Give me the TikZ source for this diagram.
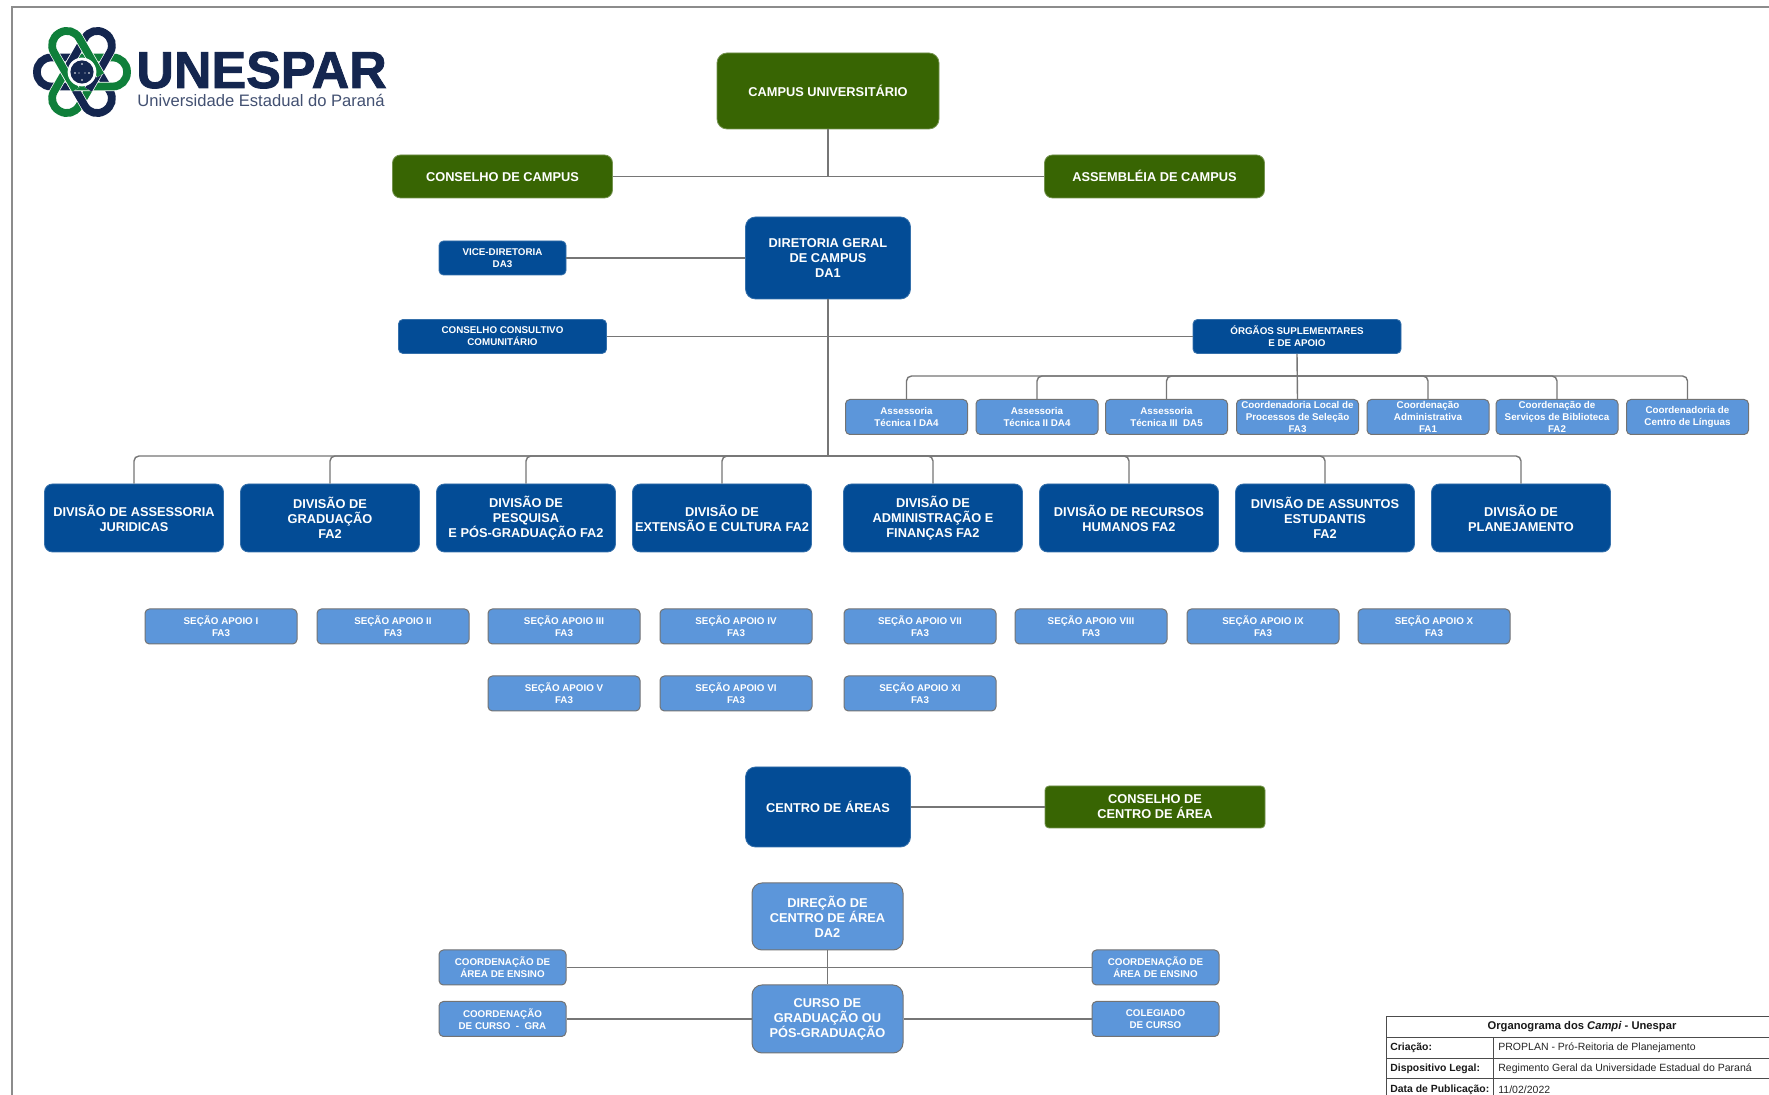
\documentclass[tikz,border=0pt]{standalone}
\usepackage{fontspec}
\setmainfont{Liberation Sans}
\newfontfamily\heavyfont[FakeBold=1.6,UprightFont=* Bold]{Liberation Sans}
\definecolor{gr}{HTML}{386503}
\definecolor{nv}{HTML}{034C96}
\definecolor{lb}{HTML}{5C96DA}
\definecolor{ink}{HTML}{14264F}
\definecolor{lgreen}{HTML}{0F7F3A}
\definecolor{conn}{HTML}{767676}
\tikzset{
 box/.style={rectangle,align=center,text=white,font=\bfseries\fontsize{6.4}{7.5}\selectfont,inner sep=0pt,rounded corners=4pt},
 greenbox/.style={box,fill=gr,draw=gr!70!white,line width=.4pt},
 navybox/.style={box,fill=nv,draw=nv!80!white,line width=.4pt},
 lightbox/.style={box,fill=lb,draw=black!55,line width=.5pt},
 smalltext/.style={font=\bfseries\fontsize{4.9}{6}\selectfont,rounded corners=2.2pt},
 div/.style={navybox,minimum width=89.5pt,minimum height=34pt},
 sec/.style={lightbox,smalltext,minimum width=76pt,minimum height=17.5pt},
 sup/.style={lightbox,smalltext,minimum width=61pt,minimum height=17.5pt},
 coordb/.style={lightbox,smalltext,minimum width=63.5pt,minimum height=17.5pt},
 wire/.style={draw=conn,line width=.7pt,rounded corners=2.5pt},
 framel/.style={draw=black!45,line width=.6pt},
 tabl/.style={draw=black!70,line width=.45pt},
 tabt/.style={inner sep=0pt,anchor=west,text=black!85,font=\fontsize{5.25}{6}\selectfont},
 tabb/.style={inner sep=0pt,anchor=west,text=black!90,font=\bfseries\fontsize{5.2}{6}\selectfont},
}
\begin{document}
\begin{tikzpicture}[x=0.5pt,y=-0.5pt]
\useasboundingbox (0,0) rectangle (1769,1095);
\fill[white] (0,0) rectangle (1769,1095);
% frame
\draw[framel] (1769,7) -- (12,7) -- (12,1095);
% logo
\foreach \a/\c in {180/ink,240/lgreen,300/ink,0/lgreen,60/ink,120/lgreen}{
 \begin{scope}[shift={(82,72)},rotate=\a]
  \draw[white,line width=4.6pt,rounded corners=7pt] (-12,-14.5) -- (45,-14.5) -- (45,14.5) -- (-12,14.5);
  \draw[draw=\c,line width=3.9pt,rounded corners=7pt] (-12,-14.5) -- (45,-14.5) -- (45,14.5) -- (-12,14.5);
 \end{scope}}
\fill[white] (82,72) circle (7.2pt);
\fill[ink] (82,72) circle (5.8pt);
\fill[white] (82,64) circle (.45pt) (75,73) circle (.45pt) (89,73) circle (.45pt) (82,80) circle (.45pt) (79,73) circle (.35pt) (85,73) circle (.35pt);
\node[inner sep=0pt,anchor=base west,text=ink,font=\heavyfont\fontsize{26}{28}\selectfont] (lg1) at (136,88) {UNESPAR};
\node[inner sep=0pt,anchor=base west,text=ink!80,font=\fontsize{8.3}{9}\selectfont] (lg2) at (137,107) {Universidade Estadual do Paraná};
% top
\node[greenbox,rounded corners=5pt,minimum width=111pt,minimum height=38pt] (campus) at (828,91) {CAMPUS UNIVERSITÁRIO};
\node[greenbox,minimum width=110pt,minimum height=21.5pt,text height=4.6pt,text depth=0pt] (cc) at (502.5,176.5) {CONSELHO DE CAMPUS};
\node[greenbox,minimum width=110pt,minimum height=21.5pt,text height=4.6pt,text depth=0pt] (ac) at (1154.5,176.5) {ASSEMBLÉIA DE CAMPUS};
\node[navybox,rounded corners=5pt,minimum width=82.5pt,minimum height=41pt] (dg) at (828,258) {DIRETORIA GERAL\\DE CAMPUS\\DA1};
\node[navybox,smalltext,minimum width=63.5pt,minimum height=17pt] (vice) at (502.5,258) {VICE-DIRETORIA\\DA3};
\node[navybox,smalltext,minimum width=104pt,minimum height=17pt] (ccc) at (502.5,336.5) {CONSELHO CONSULTIVO\\COMUNITÁRIO};
\node[navybox,smalltext,minimum width=104pt,minimum height=17pt] (osa) at (1297,336.5) {ÓRGÃOS SUPLEMENTARES\\E DE APOIO};
% suplementares
\node[sup] (s1) at (906.5,417) {Assessoria\\Técnica I DA4};
\node[sup] (s2) at (1037,417) {Assessoria\\Técnica II DA4};
\node[sup] (s3) at (1166.5,417) {Assessoria\\Técnica III\ \ DA5};
\node[sup] (s4) at (1297.5,417) {Coordenadoria Local de\\Processos de Seleção\\FA3};
\node[sup] (s5) at (1428,417) {Coordenação\\Administrativa\\FA1};
\node[sup] (s6) at (1557,417) {Coordenação de\\Serviços de Biblioteca\\FA2};
\node[sup] (s7) at (1687.5,417) {Coordenadoria de\\Centro de Línguas};
% divisoes
\node[div] (d1) at (134,518) {DIVISÃO DE ASSESSORIA\\JURIDICAS};
\node[div] (d2) at (330,518) {DIVISÃO DE\\GRADUAÇÃO\\FA2};
\node[div] (d3) at (526,518) {DIVISÃO DE\\PESQUISA\\E PÓS-GRADUAÇÃO FA2};
\node[div] (d4) at (722,518) {DIVISÃO DE\\EXTENSÃO E CULTURA FA2};
\node[div] (d5) at (933,518) {DIVISÃO DE\\ADMINISTRAÇÃO E\\FINANÇAS FA2};
\node[div] (d6) at (1129,518) {DIVISÃO DE RECURSOS\\HUMANOS FA2};
\node[div] (d7) at (1325,518) {DIVISÃO DE ASSUNTOS\\ESTUDANTIS\\FA2};
\node[div] (d8) at (1521,518) {DIVISÃO DE\\PLANEJAMENTO};
% secoes
\node[sec] (a1) at (221,626.5) {SEÇÃO APOIO I\\FA3};
\node[sec] (a2) at (393,626.5) {SEÇÃO APOIO II\\FA3};
\node[sec] (a3) at (564,626.5) {SEÇÃO APOIO III\\FA3};
\node[sec] (a4) at (736,626.5) {SEÇÃO APOIO IV\\FA3};
\node[sec] (a7) at (920,626.5) {SEÇÃO APOIO VII\\FA3};
\node[sec] (a8) at (1091,626.5) {SEÇÃO APOIO VIII\\FA3};
\node[sec] (a9) at (1263,626.5) {SEÇÃO APOIO IX\\FA3};
\node[sec] (a10) at (1434,626.5) {SEÇÃO APOIO X\\FA3};
\node[sec] (a5) at (564,693.5) {SEÇÃO APOIO V\\FA3};
\node[sec] (a6) at (736,693.5) {SEÇÃO APOIO VI\\FA3};
\node[sec] (a11) at (920,693.5) {SEÇÃO APOIO XI\\FA3};
% centro
\node[navybox,rounded corners=5pt,minimum width=82.5pt,minimum height=40pt] (ca) at (828,807) {CENTRO DE ÁREAS};
\node[greenbox,rounded corners=2pt,minimum width=110pt,minimum height=21pt] (cca) at (1155,807) {CONSELHO DE\\CENTRO DE ÁREA};
\node[lightbox,rounded corners=5pt,minimum width=75.5pt,minimum height=33.5pt] (dir) at (827.5,916.5) {DIREÇÃO DE\\CENTRO DE ÁREA\\DA2};
\node[lightbox,rounded corners=5pt,minimum width=75.5pt,minimum height=34pt] (cur) at (827.5,1019) {CURSO DE\\GRADUAÇÃO OU\\PÓS-GRADUAÇÃO};
\node[coordb] (l1) at (502.5,967.5) {COORDENAÇÃO DE\\ÁREA DE ENSINO};
\node[coordb] (l2) at (502.5,1019) {COORDENAÇÃO\\DE CURSO\ \ -\ \ GRA};
\node[coordb] (r1) at (1155.5,967.5) {COORDENAÇÃO DE\\ÁREA DE ENSINO};
\node[coordb] (r2) at (1155.5,1019) {COLEGIADO\\DE CURSO};
% junctions
\coordinate (j0) at (828,176.5);
\coordinate (j1) at (828,336.5);
\coordinate (j2) at (828,456);
\coordinate (j3) at (1297,376);
\coordinate (j4) at (827.5,967.5);
% connectors
\draw[wire] (campus.south) -- (j0);
\draw[wire] (j0) -- (cc.east);
\draw[wire] (j0) -- (ac.west);
\draw[wire] (dg.west) -- (vice.east);
\draw[wire] (dg.south) -- (j2);
\draw[wire] (j1) -- (ccc.east);
\draw[wire] (j1) -- (osa.west);
\draw[wire] (osa.south) -- (s4.north);
\foreach \n in {s1,s2,s3,s5,s6,s7}{\draw[wire] (j3) -| (\n.north);}
\foreach \n in {d1,d2,d3,d4,d5,d6,d7,d8}{\draw[wire] (j2) -| (\n.north);}
\draw[wire] (ca.east) -- (cca.west);
\draw[wire] (dir.south) -- (cur.north);
\draw[wire] (j4) -- (l1.east);
\draw[wire] (j4) -- (r1.west);
\draw[wire] (cur.west) -- (l2.east);
\draw[wire] (cur.east) -- (r2.west);
% tabela
\draw[tabl] (1769,1016) -- (1386,1016) -- (1386,1095);
\draw[tabl] (1386,1037) -- (1769,1037) (1386,1058) -- (1769,1058) (1386,1078) -- (1769,1078);
\draw[tabl] (1493,1037) -- (1493,1095);
\node[inner sep=0pt,text=black!90,font=\bfseries\fontsize{5.6}{6}\selectfont] (t0) at (1582,1026.5) {Organograma dos \textit{Campi} - Unespar};
\node[tabb] (t1) at (1390,1048) {Criação:};
\node[tabb] (t2) at (1390,1068.5) {Dispositivo Legal:};
\node[tabb] (t3) at (1390,1089.5) {Data de Publicação:};
\node[tabt] (v1) at (1498,1048) {PROPLAN - Pró-Reitoria de Planejamento};
\node[tabt] (v2) at (1498,1068.5) {Regimento Geral da Universidade Estadual do Paraná};
\node[tabt] (v3) at (1498,1089.5) {11/02/2022};
\end{tikzpicture}
\end{document}
